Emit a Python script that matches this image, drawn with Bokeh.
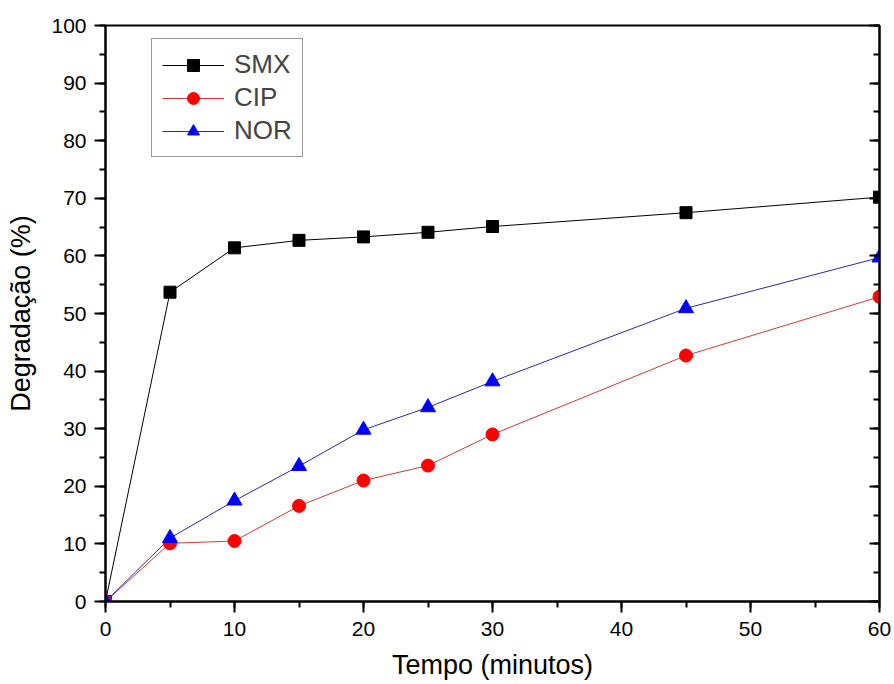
from bokeh.plotting import figure
from bokeh.models import Range1d, LinearAxis, Legend, LegendItem, SingleIntervalTicker
from bokeh.embed import file_html
from bokeh.resources import INLINE

tempo = [0, 5, 10, 15, 20, 25, 30, 45, 60]
smx = [0, 53.7, 61.4, 62.7, 63.3, 64.1, 65.1, 67.5, 70.2]
cip = [0, 10.1, 10.5, 16.6, 21.0, 23.6, 29.0, 42.7, 52.9]
nor = [0, 11.0, 17.5, 23.5, 29.8, 33.7, 38.2, 50.9, 59.7]

FONT = "Liberation Sans"

p = figure(width=894, height=684, output_backend="svg", toolbar_location=None,
           x_range=Range1d(0, 60), y_range=Range1d(0, 100),
           min_border_left=105, min_border_right=15, min_border_top=25, min_border_bottom=83,
           x_axis_label="Tempo (minutos)", y_axis_label="Degradação (%)")
p.grid.visible = False
p.outline_line_color = "black"
p.outline_line_width = 2
p.background_fill_color = "white"
p.border_fill_color = "white"

for ax in (p.xaxis[0], p.yaxis[0]):
    ax.ticker = SingleIntervalTicker(interval=10, num_minor_ticks=2)
    ax.axis_line_width = 2
    ax.major_tick_line_width = 2
    ax.minor_tick_line_width = 2
    ax.major_tick_out = 11
    ax.major_tick_in = 0
    ax.minor_tick_out = 6
    ax.minor_tick_in = 0
    ax.major_label_text_font = FONT
    ax.major_label_text_font_size = "21px"
    ax.major_label_text_color = "black"
    ax.axis_label_text_font = FONT
    ax.axis_label_text_font_size = "27px"
    ax.axis_label_text_font_style = "normal"
    ax.axis_label_text_color = "black"
p.xaxis[0].major_label_standoff = 9
p.xaxis[0].axis_label_standoff = 11
p.yaxis[0].major_label_standoff = 8
p.yaxis[0].axis_label_standoff = 12

right = LinearAxis(ticker=SingleIntervalTicker(interval=10, num_minor_ticks=2),
                   major_label_text_font_size="0px", axis_line_width=2,
                   major_tick_line_width=2, minor_tick_line_width=2,
                   major_tick_in=10, major_tick_out=0, minor_tick_in=6, minor_tick_out=0)
right.major_label_text_alpha = 0
p.add_layout(right, "right")

l1 = p.line(tempo, smx, line_color="black", line_width=1)
s1 = p.scatter(tempo, smx, marker="square", size=12, fill_color="black", line_color="black")
l2 = p.line(tempo, cip, line_color="#d83838", line_width=1)
s2 = p.scatter(tempo, cip, marker="circle", size=13, fill_color="#ff0000", line_color="#ff0000")
l3 = p.line(tempo, nor, line_color="#2a2aa0", line_width=1)
s3 = p.scatter(tempo, nor, marker="triangle", size=15, fill_color="#0000ff", line_color="#0000ff")

legend = Legend(items=[LegendItem(label="SMX", renderers=[l1, s1]),
                       LegendItem(label="CIP", renderers=[l2, s2]),
                       LegendItem(label="NOR", renderers=[l3, s3])],
                location=(46, 444), orientation="vertical",
                label_text_font=FONT, label_text_font_size="26px",
                glyph_width=62, glyph_height=30, label_height=30,
                spacing=2, padding=10, margin=0, label_standoff=10,
                border_line_color="#333333", border_line_width=1.5,
                background_fill_color="white", background_fill_alpha=1)
p.add_layout(legend, "center")

open("out.html", "w").write(file_html(p, INLINE))
